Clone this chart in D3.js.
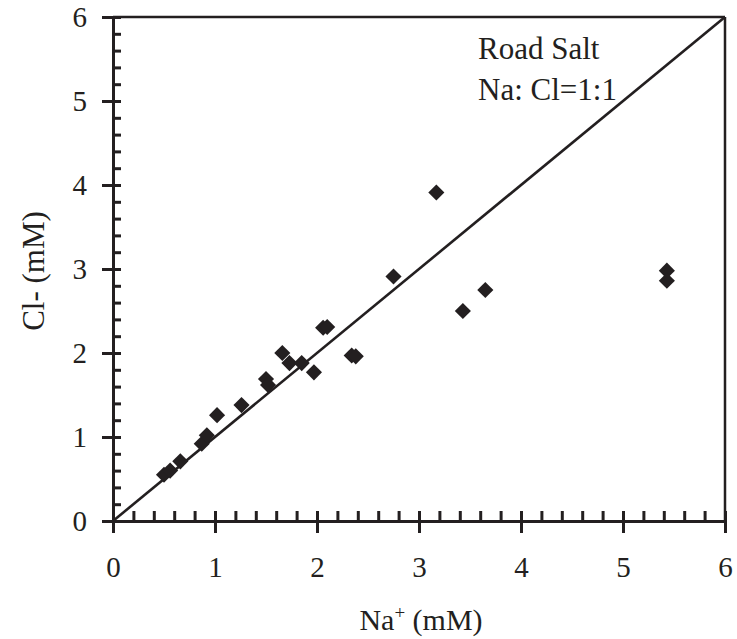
<!DOCTYPE html>
<html>
<head>
<meta charset="utf-8">
<script src="https://cdn.jsdelivr.net/npm/d3@7"></script>
<style>
  body { margin: 0; background: #fff; }
  svg text { font-family: "Liberation Serif", "Times New Roman", serif; fill: #231f20; }
</style>
</head>
<body>
<div id="chart"></div>
<script>
// Na+ vs Cl- concentrations (mM)
var naValues = [0.50, 0.56, 0.66, 0.87, 0.92, 1.02, 1.26, 1.50, 1.52, 1.66, 1.73, 1.85, 1.97, 2.06, 2.10, 2.34, 2.38, 2.75, 3.17, 3.43, 3.65, 5.43, 5.43];
var clValues = [0.55, 0.60, 0.71, 0.92, 1.02, 1.26, 1.38, 1.69, 1.62, 2.00, 1.88, 1.88, 1.77, 2.30, 2.31, 1.97, 1.96, 2.91, 3.91, 2.50, 2.75, 2.98, 2.86];
var majorTicks = [0, 1, 2, 3, 4, 5, 6];
var minorTicks = d3.range(0, 30).map(function(i) { return i * 0.2; }).filter(function(v) { return Math.abs(v - Math.round(v)) > 1e-6; });
var ratioLine = [[0, 0], [6, 6]];
var noteLines = ["Road Salt", "Na: Cl=1:1"];

var width = 737, height = 639;
var ink = "#231f20";
var serif = "'Liberation Serif', 'Times New Roman', serif";

var svg = d3.select("#chart").append("svg")
  .attr("width", width)
  .attr("height", height);

var x = d3.scaleLinear().domain([0, 6]).range([113, 725]);
var y = d3.scaleLinear().domain([0, 6]).range([521, 17]);

var data = naValues.map(function(v, i) { return { na: v, cl: clValues[i] }; });

// frame (top + right)
svg.append("line")
  .attr("x1", x(0)).attr("x2", x(6))
  .attr("y1", y(6)).attr("y2", y(6))
  .attr("stroke", ink).attr("stroke-width", 2.5);
svg.append("line")
  .attr("x1", x(6)).attr("x2", x(6))
  .attr("y1", y(0)).attr("y2", y(6))
  .attr("stroke", ink).attr("stroke-width", 2.5);

// x axis: outer major ticks with labels, inner ticks
svg.append("g")
  .attr("transform", "translate(0," + y(0) + ")")
  .call(d3.axisBottom(x).tickValues(majorTicks).tickSize(12).tickSizeOuter(0).tickPadding(23).tickFormat(d3.format("d")));
svg.append("g")
  .attr("transform", "translate(0," + y(0) + ")")
  .call(d3.axisTop(x).tickValues(majorTicks.concat(minorTicks)).tickSize(10).tickSizeOuter(0).tickFormat(""));

// y axis
svg.append("g")
  .attr("transform", "translate(" + x(0) + ",0)")
  .call(d3.axisLeft(y).tickValues(majorTicks).tickSize(11).tickSizeOuter(0).tickPadding(15).tickFormat(d3.format("d")));
svg.append("g")
  .attr("transform", "translate(" + x(0) + ",0)")
  .call(d3.axisRight(y).tickValues(majorTicks.concat(minorTicks)).tickSize(8).tickSizeOuter(0).tickFormat(""));

svg.selectAll(".domain").attr("stroke", ink).attr("stroke-width", 3);
svg.selectAll(".tick line").attr("stroke", ink).attr("stroke-width", 3);
svg.selectAll(".tick text")
  .style("font-family", serif)
  .style("font-size", "29px")
  .attr("fill", ink);

// 1:1 line
svg.append("path")
  .datum(ratioLine)
  .attr("d", d3.line().x(function(d) { return x(d[0]); }).y(function(d) { return y(d[1]); }))
  .attr("stroke", ink)
  .attr("stroke-width", 2.6)
  .attr("fill", "none");

// diamonds
var diamond = d3.symbol().type(d3.symbolSquare).size(130);
svg.append("g").selectAll("path")
  .data(data)
  .enter().append("path")
  .attr("d", diamond)
  .attr("transform", function(d) { return "translate(" + x(d.na) + "," + y(d.cl) + ") rotate(45)"; })
  .attr("fill", ink);

// note
svg.append("g").selectAll("text")
  .data(noteLines)
  .enter().append("text")
  .attr("x", 478)
  .attr("y", function(d, i) { return 59 + i * 41; })
  .style("font-family", serif)
  .style("font-size", "31px")
  .text(function(d) { return d; });

// axis titles
var xTitle = svg.append("text")
  .attr("x", 421)
  .attr("y", 630)
  .attr("text-anchor", "middle")
  .style("font-family", serif)
  .style("font-size", "30px");
xTitle.append("tspan").text("Na");
xTitle.append("tspan").attr("dy", -11).style("font-size", "19px").text("+");
xTitle.append("tspan").attr("dy", 11).text(" (mM)");

svg.append("text")
  .attr("transform", "translate(44,271) rotate(-90)")
  .attr("text-anchor", "middle")
  .style("font-family", serif)
  .style("font-size", "31px")
  .text("Cl- (mM)");
</script>
</body>
</html>
